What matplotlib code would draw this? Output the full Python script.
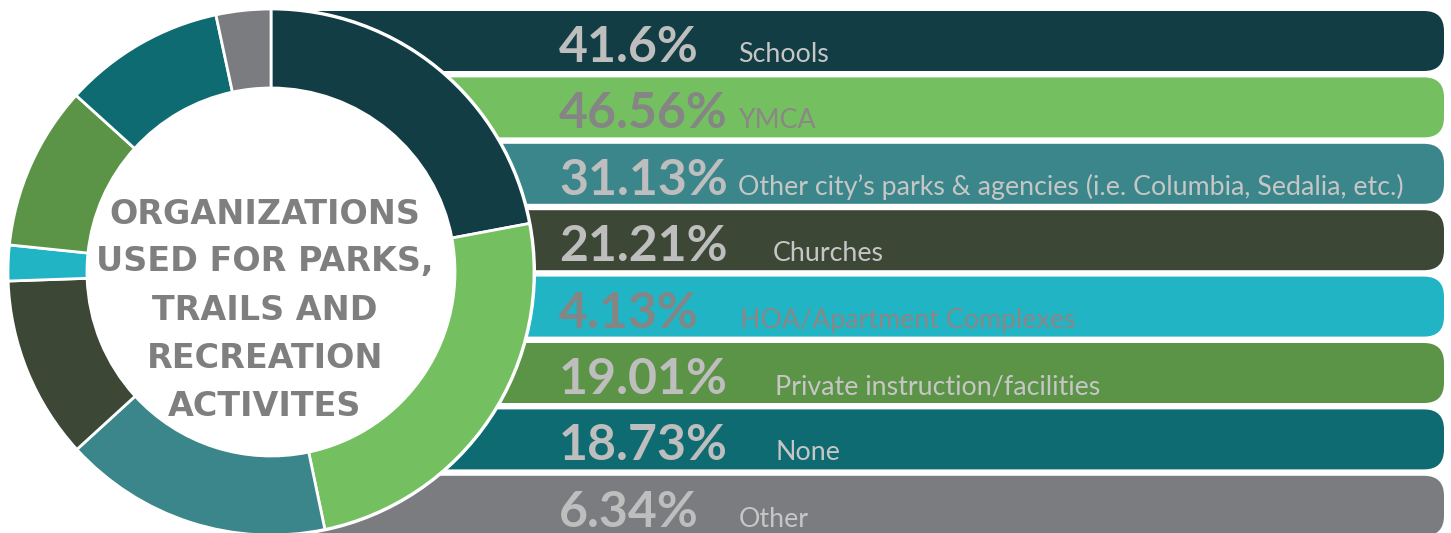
# Organizations used for parks, trails and recreation activities
import matplotlib.pyplot as plt
from matplotlib.patches import FancyBboxPatch, Circle

# Data
categories = ["Schools", "YMCA",
              "Other city\u2019s parks & agencies (i.e. Columbia, Sedalia, etc.)",
              "Churches", "HOA/Apartment Complexes",
              "Private instruction/facilities", "None", "Other"]
percents = [41.6, 46.56, 31.13, 21.21, 4.13, 19.01, 18.73, 6.34]
pct_labels = ["41.6%", "46.56%", "31.13%", "21.21%", "4.13%", "19.01%", "18.73%", "6.34%"]
colors = ["#133D44", "#74C060", "#3A868A", "#3C4736",
          "#21B4C4", "#5B9446", "#0E6B72", "#7B7C80"]
title_lines = ["ORGANIZATIONS", "USED FOR PARKS,", "TRAILS AND", "RECREATION", "ACTIVITES"]

# Layout (pixels)
W, H = 1451, 533
label_x = [738, 738, 738, 773, 740, 775, 775, 739]
light_bars = {1, 4}

fig = plt.figure(figsize=(W / 100, H / 100), dpi=100)
ax = fig.add_axes([0, 0, 1, 1])

cx, cy, r_out, r_in = 271, H - 272, 263, 184

# rows of rounded bars
row_top, row_h, row_step = 11, 60, 66.4
for i, (c, p, lab) in enumerate(zip(colors, pct_labels, categories)):
    top = row_top + i * row_step
    y0 = H - top - row_h
    ax.add_patch(FancyBboxPatch((cx, y0), 1444 - cx, row_h,
                                boxstyle="round,pad=0,rounding_size=20",
                                fc=c, ec="none", zorder=1))
    base = H - (top + 51)
    pc = "#858585" if i in light_bars else "#BEBEBE"
    lc = "#8C8686" if i in light_bars else "#C6C6C6"
    ax.text(559, base, p, fontsize=36, fontweight="bold", color=pc,
            family="Lato", va="baseline", ha="left", zorder=4)
    ax.text(label_x[i], base, lab, fontsize=19.3, color=lc,
            family="Lato", va="baseline", ha="left", zorder=4)

# donut
ax.add_patch(Circle((cx, cy), r_out + 2, fc="white", ec="none", zorder=2))
ax.pie(percents, colors=colors, startangle=90, counterclock=False,
       center=(cx, cy), radius=r_out,
       wedgeprops=dict(width=r_out - r_in, edgecolor="white", linewidth=2, zorder=3))

# centre title
line_y = [214, 261, 311, 358, 406]
for t, y in zip(title_lines, line_y):
    ax.text(265, H - y, t, fontsize=24, fontweight="bold",
            color="#7F7F7F", family="DejaVu Sans", ha="center", va="center",
            zorder=5)

ax.set_xlim(0, W)
ax.set_ylim(0, H)
ax.set_aspect("equal")
ax.axis("off")

plt.savefig("out.png", dpi=100)
plt.close(fig)
